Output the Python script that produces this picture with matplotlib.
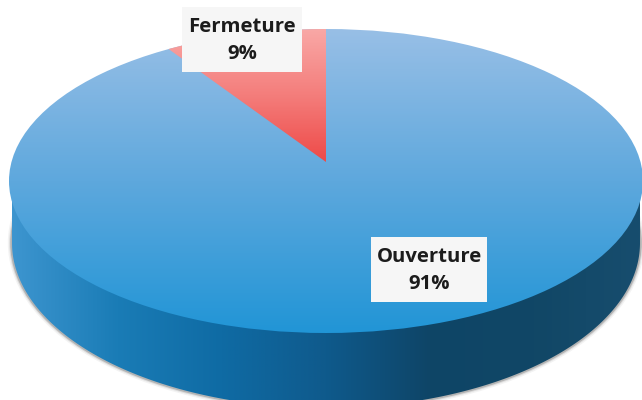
import numpy as np
import matplotlib
matplotlib.use("Agg")
import matplotlib.pyplot as plt
from matplotlib.colors import LinearSegmentedColormap
from matplotlib.patches import Ellipse, Polygon, Rectangle

#data
labels = ["Fermeture", "Ouverture"]
values = [9, 91]

#pie geometry, in picture pixels
W, H = 642, 400
cx, cy, a, b = 326, 181, 317, 152
low_cy, low_a, low_b = 243, 314, 165
apex = (326, 162)
view_x, view_y = 292, 133

plt.rcParams["font.family"] = ["Open Sans", "DejaVu Sans"]
fig = plt.figure(figsize=(W / 100, H / 100), dpi=100)
ax = fig.add_axes([0, 0, 1, 1])


def gradient(colors, extent, vertical, clip):
    cmap = LinearSegmentedColormap.from_list("g", colors)
    ramp = np.linspace(0, 1, 256)
    ramp = ramp.reshape(-1, 1) if vertical else ramp.reshape(1, -1)
    im = ax.imshow(ramp, cmap=cmap, extent=extent, aspect="auto", origin="upper", zorder=clip.get_zorder())
    ax.add_patch(clip)
    clip.set_visible(False)
    im.set_clip_path(clip)
    return im


#shadow under the side
for lw, alpha in [(6, 0.07), (4, 0.14), (2.5, 0.3)]:
    ax.add_patch(Ellipse((cx, low_cy), 2 * low_a, 2 * low_b, fill=False, edgecolor="#555555", lw=lw, alpha=alpha, zorder=1))

#side of the disc
t = np.linspace(0, np.pi, 300)
side = np.column_stack([cx + low_a * np.cos(t), low_cy + low_b * np.sin(t)])
side = np.vstack([[cx + low_a, cy], side, [cx - low_a, cy]])
gradient(
    ["#3d95cf", "#1a7cb6", "#0f6ba4", "#0f5a8c", "#0e4567", "#114766", "#174d6e"],
    [cx - low_a, cx + low_a, H + 10, cy],
    False,
    Polygon(side, closed=True, zorder=2),
)

#top of the disc
gradient(
    ["#98bfe6", "#5ea8dd", "#2195d6"],
    [cx - a, cx + a, cy + b, cy - b],
    True,
    Ellipse((cx, cy), 2 * a, 2 * b, zorder=3),
)

#red slice: the share sets the direction of its edge seen from the apex
angle = 2 * np.pi * values[0] / sum(values)
dx, dy = -view_x * np.sin(angle), -view_y * np.cos(angle)
ex, ey = apex[0] - cx, apex[1] - cy
qa = (dx / a) ** 2 + (dy / b) ** 2
qb = 2 * (ex * dx / a ** 2 + ey * dy / b ** 2)
qc = (ex / a) ** 2 + (ey / b) ** 2 - 1
s = (-qb + np.sqrt(qb ** 2 - 4 * qa * qc)) / (2 * qa)
end_x = apex[0] + s * dx
xs = np.linspace(end_x, apex[0], 60)
ys = cy - b * np.sqrt(1 - ((xs - cx) / a) ** 2)
slice_pts = np.vstack([[apex], np.column_stack([xs, ys])])
gradient(
    ["#f9a8a6", "#f47d7b", "#ee4a48"],
    [cx - a, cx + a, apex[1], cy - b],
    True,
    Polygon(slice_pts, closed=True, zorder=4),
)

#label boxes
boxes = [(182, 7, 120, 65), (371, 237, 116, 65)]
for label, value, (x, y, w, h) in zip(labels, values, boxes):
    ax.add_patch(Rectangle((x, y), w, h, facecolor="#f6f6f6", edgecolor="none", zorder=5))
    ax.text(x + w / 2, y + h / 2 + 1, "%s\n%d%%" % (label, value), ha="center", va="center",
            fontsize=14.6, fontweight="bold", color="#1c1c1c", linespacing=1.42, zorder=6)

ax.set_xlim(0, W)
ax.set_ylim(H, 0)
ax.axis("off")
fig.savefig("out.png", dpi=100, facecolor="white")
